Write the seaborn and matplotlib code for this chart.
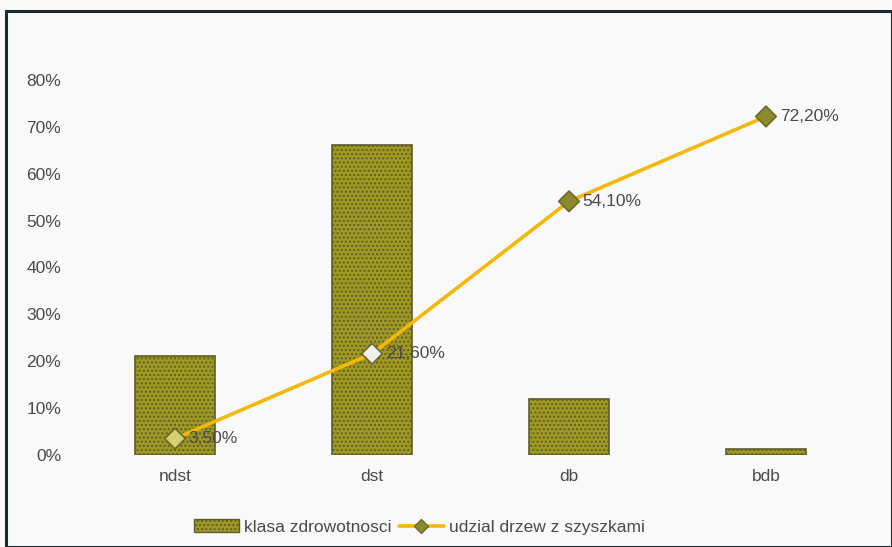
import matplotlib
matplotlib.use("Agg")
import matplotlib.pyplot as plt
import seaborn as sns
import pandas as pd
from matplotlib.patches import Rectangle
from matplotlib.lines import Line2D
from matplotlib.patches import Patch

categories = ["ndst", "dst", "db", "bdb"]
klasa_zdrowotnosci = [0.211, 0.661, 0.119, 0.013]
udzial_szyszki = [0.035, 0.216, 0.541, 0.722]
udzial_labels = ["3,50%", "21,60%", "54,10%", "72,20%"]
ytick_vals = [0, 0.1, 0.2, 0.3, 0.4, 0.5, 0.6, 0.7, 0.8]
ytick_labels = ["0%", "10%", "20%", "30%", "40%", "50%", "60%", "70%", "80%"]

sns.set_theme(style="white")
plt.rcParams["font.family"] = ["Liberation Sans", "DejaVu Sans"]
plt.rcParams["hatch.color"] = "#B8B040"

bar_color = "#A09A22"
bar_edge = "#5E5C2A"
line_color = "#F5B80A"
marker_edge = "#6B6A2A"
text_color = "#4A4A4A"
fs = 12.5

fig = plt.figure(figsize=(8.92, 5.47), dpi=100, facecolor="#F9F9F9")
ax = fig.add_axes([76.5 / 892, 92 / 547, 788 / 892, 422 / 547])
ax.set_facecolor("#F9F9F9")

df = pd.DataFrame({"cat": categories, "klasa": klasa_zdrowotnosci, "udzial": udzial_szyszki})
sns.barplot(data=df, x="cat", y="klasa", color=bar_color, width=0.405,
            edgecolor=bar_edge, linewidth=1.2, saturation=1, ax=ax, zorder=2)
for p in ax.patches:
    p.set_hatch("....")

sns.lineplot(data=df, x="cat", y="udzial", color=line_color, linewidth=2.6,
             sort=False, ax=ax, zorder=3)
facecols = ["#D8CF70", "#F0F0F0", "#8C8A2E", "#8C8A2E"]
xs = range(len(categories))
ax.scatter(list(xs), udzial_szyszki, marker="D", s=110, c=facecols,
           edgecolors=marker_edge, linewidths=1.2, zorder=4)
for x, y, lab in zip(xs, udzial_szyszki, udzial_labels):
    ax.text(x + 0.07, y, lab, va="center", ha="left", fontsize=fs,
            color=text_color, zorder=5)

ax.set_ylim(0, 0.9)
ax.set_xlim(-0.5, 3.5)
ax.set_yticks(ytick_vals)
ax.set_yticklabels(ytick_labels)
ax.set_xlabel("")
ax.set_ylabel("")
ax.tick_params(axis="both", labelsize=fs, colors=text_color, length=0)
ax.tick_params(axis="y", pad=11)
ax.tick_params(axis="x", pad=10)
for s in ax.spines.values():
    s.set_visible(False)

handles = [Patch(facecolor=bar_color, edgecolor=bar_edge, hatch="...."),
           Line2D([0], [0], color=line_color, lw=2.6, marker="D", markersize=7,
                  markerfacecolor="#8C8A2E", markeredgecolor=marker_edge)]
fig.legend(handles, ["klasa zdrowotnosci", "udzial drzew z szyszkami"],
           loc="center", bbox_to_anchor=(0.47, 20 / 547), ncol=2, frameon=False,
           fontsize=fs, handlelength=2.6, handletextpad=0.3, columnspacing=0.4,
           labelcolor=text_color)

fig.add_artist(Rectangle((6 / 892, 0), 1 - 6 / 892, (547 - 11) / 547,
                         transform=fig.transFigure, fill=False,
                         edgecolor="#1E2A33", linewidth=2.2))

fig.savefig("out.png", dpi=100, facecolor=fig.get_facecolor())
